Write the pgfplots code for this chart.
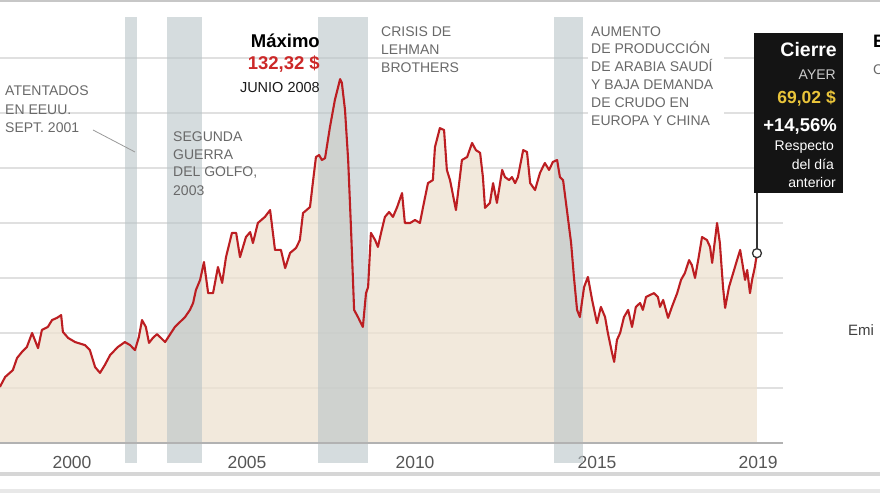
\documentclass[border=0pt]{standalone}
\usepackage{fontspec}
\setmainfont{Liberation Sans}
\usepackage{pgfplots}
\pgfplotsset{compat=1.18}
\usepackage{pgfplotstable}
\definecolor{linered}{RGB}{188,30,34}
\definecolor{areabeige}{RGB}{238,226,208}
\definecolor{bargray}{RGB}{185,196,200}
\definecolor{txtgray}{RGB}{105,105,105}
\definecolor{gridgray}{RGB}{224,224,224}
\definecolor{ylw}{RGB}{233,196,58}
\definecolor{maxred}{RGB}{204,40,40}
\definecolor{ticktxt}{RGB}{85,85,85}
\newcommand\fs[1]{\fontsize{#1}{#1}\selectfont}

\pgfplotstableread{
year value
1997.94 20.4
1998.09 24.0
1998.31 26.5
1998.43 30.9
1998.57 33.1
1998.71 34.9
1998.86 40.0
1999.03 34.5
1999.14 41.1
1999.31 42.2
1999.43 44.7
1999.57 45.5
1999.69 46.5
1999.74 40.4
1999.89 38.2
2000.09 36.7
2000.37 35.6
2000.51 33.8
2000.66 27.6
2000.80 25.5
2000.94 28.4
2001.09 32.0
2001.31 34.9
2001.51 36.7
2001.66 35.6
2001.80 33.8
2001.91 38.5
2002.00 44.7
2002.11 42.2
2002.20 36.4
2002.31 38.2
2002.43 39.6
2002.66 36.7
2002.94 42.2
2003.23 45.8
2003.37 48.4
2003.46 50.9
2003.54 55.6
2003.66 59.3
2003.77 65.8
2003.89 54.5
2004.03 54.5
2004.17 64.0
2004.29 58.2
2004.40 67.6
2004.57 76.4
2004.69 76.4
2004.80 67.6
2004.97 74.9
2005.09 76.7
2005.17 72.7
2005.31 80.0
2005.51 82.2
2005.66 84.7
2005.80 70.2
2005.97 70.2
2006.09 63.6
2006.23 69.1
2006.40 70.9
2006.51 73.8
2006.60 83.6
2006.80 85.8
2006.89 95.6
2006.97 104.0
2007.06 104.7
2007.14 102.9
2007.23 103.6
2007.37 114.9
2007.51 124.7
2007.66 132.32
2007.71 131.0
2007.80 121.1
2007.89 102.9
2007.97 78.5
2008.06 48.4
2008.17 45.8
2008.31 42.2
2008.40 54.5
2008.46 56.7
2008.54 76.4
2008.66 73.8
2008.74 71.3
2008.83 76.4
2008.94 82.2
2009.06 84.0
2009.17 82.2
2009.29 85.8
2009.43 90.9
2009.51 80.0
2009.66 80.0
2009.80 81.1
2009.94 80.0
2010.03 85.8
2010.17 94.5
2010.31 95.6
2010.37 107.6
2010.51 114.5
2010.63 113.8
2010.71 99.3
2010.80 95.6
2010.97 84.7
2011.14 102.9
2011.29 104.0
2011.43 109.1
2011.54 106.5
2011.66 105.5
2011.74 96.7
2011.80 85.5
2011.94 87.3
2012.03 94.5
2012.14 87.3
2012.29 99.3
2012.37 96.7
2012.49 95.6
2012.57 96.7
2012.66 94.5
2012.74 96.7
2012.89 106.5
2013.00 105.8
2013.09 94.5
2013.23 92.0
2013.37 98.2
2013.51 101.8
2013.63 99.3
2013.74 102.2
2013.86 102.9
2013.94 96.7
2014.03 95.6
2014.14 84.7
2014.26 72.7
2014.34 60.4
2014.43 48.4
2014.51 45.8
2014.63 56.7
2014.74 60.4
2014.86 52.0
2015.00 43.6
2015.11 49.5
2015.23 45.8
2015.31 40.0
2015.43 32.7
2015.49 29.5
2015.57 37.5
2015.66 40.0
2015.77 45.8
2015.89 48.4
2016.00 42.2
2016.11 49.5
2016.23 50.9
2016.31 48.4
2016.40 53.1
2016.51 53.8
2016.63 54.5
2016.74 53.1
2016.80 49.5
2016.89 52.0
2017.03 45.5
2017.14 49.5
2017.29 54.5
2017.40 59.3
2017.51 61.8
2017.63 66.5
2017.71 64.7
2017.80 60.0
2017.89 66.5
2018.00 74.9
2018.14 73.8
2018.23 71.3
2018.29 65.5
2018.37 73.8
2018.43 80.0
2018.51 72.7
2018.60 56.7
2018.66 49.1
2018.77 56.7
2018.89 61.8
2019.00 66.5
2019.09 70.2
2019.17 64.0
2019.23 59.3
2019.29 62.9
2019.37 54.5
2019.43 59.3
2019.51 64.0
2019.57 69.02
}\brent

\begin{document}
\begin{tikzpicture}[x=1pt,y=1pt]
\useasboundingbox (0,0) rectangle (880,495);
% frame lines
\fill[black!22] (0,492.5) rectangle (880,495);
\fill[black!16] (0,19) rectangle (880,23);
\fill[black!9] (0,2) rectangle (880,6);

\begin{axis}[
  at={(0pt,52pt)}, anchor=south west,
  scale only axis, width=785pt, height=412.5pt,
  xmin=1997.943, xmax=2020.371, ymin=0, ymax=150,
  clip=false,
  axis line style={draw=none},
  major tick length=0pt,
  xtick={2000,2005,2009.8,2015,2019.6},
  xticklabels={2000,2005,2010,2015,2019},
  xticklabel style={font=\fs{17.5}, text=ticktxt, anchor=base, inner sep=0pt, yshift=-25.5pt},
  ytick=\empty,
]
% horizontal grid lines
\pgfplotsinvokeforeach{20,40,...,140}{
  \draw[gridgray, line width=1.1pt] (axis cs:1997.943,#1) -- (axis cs:2020.3,#1);
}
\addplot[fill=areabeige, fill opacity=0.75, draw=none] table[x=year,y=value]{\brent} \closedcycle;
\fill[bargray, opacity=0.6] (axis cs:2001.51,-7.3) rectangle (axis cs:2001.86,154.9);
\fill[bargray, opacity=0.6] (axis cs:2002.71,-7.3) rectangle (axis cs:2003.71,154.9);
\fill[bargray, opacity=0.6] (axis cs:2007.03,-7.3) rectangle (axis cs:2008.46,154.9);
\fill[bargray, opacity=0.6] (axis cs:2013.77,-7.3) rectangle (axis cs:2014.60,154.9);
\draw[black!30, line width=1.6pt] (axis cs:1997.943,0) -- (axis cs:2020.3,0);
\addplot[linered, line width=2.1pt, line join=round] table[x=year,y=value]{\brent};
\draw[black!80, line width=1.2pt] (axis cs:2019.57,69.02) -- (axis cs:2019.57,91);
\addplot[only marks, mark=*, mark size=4.5pt, mark options={fill=white, draw=black!80, line width=1.3pt}] coordinates {(2019.57,69.02)};
\end{axis}

% leader line
\draw[black!40, line width=0.8pt] (93,365) -- (135,343);

% annotations
\begin{scope}[every node/.style={anchor=base west, inner sep=0pt, font=\fs{14}, text=txtgray}]
\node at (5,399) {ATENTADOS};
\node at (5,380) {EN EEUU.};
\node at (5,362) {SEPT. 2001};
\node at (173,353.5) {SEGUNDA};
\node at (173,335.5) {GUERRA};
\node at (173,318) {DEL GOLFO,};
\node at (173,299.5) {2003};
\node at (381,458.5) {CRISIS DE};
\node at (381,440.5) {LEHMAN};
\node at (381,422.5) {BROTHERS};
\fill[white] (588,367) rectangle (724,471);
\node at (591,458.5) {AUMENTO};
\node at (591,441.5) {DE PRODUCCIÓN};
\node at (591,423.5) {DE ARABIA SAUDÍ};
\node at (591,405.5) {Y BAJA DEMANDA};
\node at (591,387.5) {DE CRUDO EN};
\node at (591,369.5) {EUROPA Y CHINA};
\end{scope}

% maximum
\node[anchor=base east, inner sep=0pt, font=\fs{18.5}\bfseries, text=black] at (320,447) {Máximo};
\node[anchor=base east, inner sep=0pt, font=\fs{18.5}\bfseries, text=maxred] at (320,425.5) {132,32 \$};
\node[anchor=base east, inner sep=0pt, font=\fs{14.5}, text=black!90] at (320,402) {JUNIO 2008};

% closing box
\fill[black!92] (754,302) rectangle (843,462);
\begin{scope}[every node/.style={anchor=base east, inner sep=0pt}]
\node[font=\fs{19.5}\bfseries, text=white] at (837,438) {Cierre};
\node[font=\fs{14}, text=black!20] at (836,415) {AYER};
\node[font=\fs{17.5}\bfseries, text=ylw] at (836,391) {69,02 \$};
\node[font=\fs{18.5}\bfseries, text=white] at (837,363) {+14,56\%};
\node[font=\fs{14}, text=white] at (834,344) {Respecto};
\node[font=\fs{14}, text=white] at (834,325) {del día};
\node[font=\fs{14}, text=white] at (836,307) {anterior};
\end{scope}

% cut-off elements of the neighbouring panel
\node[anchor=base west, inner sep=0pt, font=\fs{18}\bfseries, text=black] at (873,447) {E};
\node[anchor=base west, inner sep=0pt, font=\fs{14}, text=txtgray] at (873,420) {C};
\node[anchor=base west, inner sep=0pt, font=\fs{15}, text=black!75] at (848,159) {Emi};
\end{tikzpicture}
\end{document}
